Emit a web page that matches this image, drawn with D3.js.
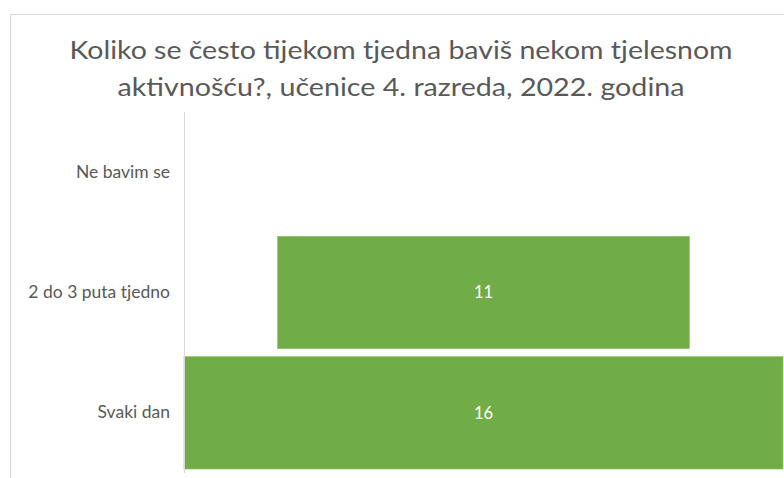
<!DOCTYPE html>
<html>
<head>
<meta charset="utf-8">
<script src="https://cdn.jsdelivr.net/npm/d3@7"></script>
<style>
  body { margin: 0; background: #fff; }
  svg { display: block; }
</style>
</head>
<body>
<svg id="chart" width="784" height="478"></svg>
<script>
// data
var titleLines = ["Koliko se često tijekom tjedna baviš nekom tjelesnom", "aktivnošću?, učenice 4. razreda, 2022. godina"]
var categories = ["Ne bavim se", "2 do 3 puta tjedno", "Svaki dan"]
var values = [0, 11, 16]

var svg = d3.select("#chart")
var margin = {top: 112, right: 1, bottom: 5, left: 184}
var width = svg.attr("width") - margin.left - margin.right
var height = svg.attr("height") - margin.top - margin.bottom
var font = "Lato, 'Open Sans', sans-serif"

// chart frame
svg.append("rect")
  .attr("x", 10.5).attr("y", 14.5)
  .attr("width", 790).attr("height", 480)
  .attr("fill", "#fff").attr("stroke", "#d9d9d9")

// title
svg.append("g").selectAll("text").data(titleLines).enter().append("text")
  .attr("x", 401)
  .attr("y", (d, i) => 59 + i * 37)
  .attr("text-anchor", "middle")
  .attr("font-family", font)
  .attr("font-size", 25)
  .attr("fill", "#595959")
  .attr("textLength", (d, i) => i == 0 ? 663 : 567)
  .attr("lengthAdjust", "spacingAndGlyphs")
  .text(d => d)

var canvas = svg.append("g")
  .attr("transform", "translate(" + margin.left + "," + margin.top + ")")

var yScale = d3.scaleBand().domain(categories).range([0, height]).paddingInner(0.066).paddingOuter(0.033)
var xScale = d3.scaleLinear().domain([0, d3.max(values)]).range([0, width])
var center = width / 2

// bars, centered like a funnel
canvas.selectAll("rect.bar").data(values).enter().append("rect")
  .attr("class", "bar")
  .attr("x", d => center - xScale(d) / 2)
  .attr("y", (d, i) => yScale(categories[i]))
  .attr("width", d => xScale(d))
  .attr("height", yScale.bandwidth())
  .attr("fill", "#70ad47")
  .attr("stroke", "#8cc068")
  .attr("stroke-width", 0.6)

// value labels
canvas.selectAll("text.val").data(values.map((v, i) => ({v: v, c: categories[i]})).filter(d => d.v > 0))
  .enter().append("text")
  .attr("class", "val")
  .attr("x", center)
  .attr("y", d => yScale(d.c) + yScale.bandwidth() / 2)
  .attr("dy", "0.35em")
  .attr("text-anchor", "middle")
  .attr("font-family", font)
  .attr("font-size", 16.5)
  .attr("fill", "#fff")
  .text(d => d.v)

// category axis
var yAxis = d3.axisLeft(yScale).tickSize(0).tickPadding(14)
var gy = canvas.append("g").call(yAxis)
gy.select(".domain").attr("stroke", "#d9d9d9").attr("d", "M0.5,0V" + height)
gy.selectAll("text")
  .attr("font-family", font)
  .attr("font-size", 17.5)
  .attr("fill", "#595959")
</script>
</body>
</html>
